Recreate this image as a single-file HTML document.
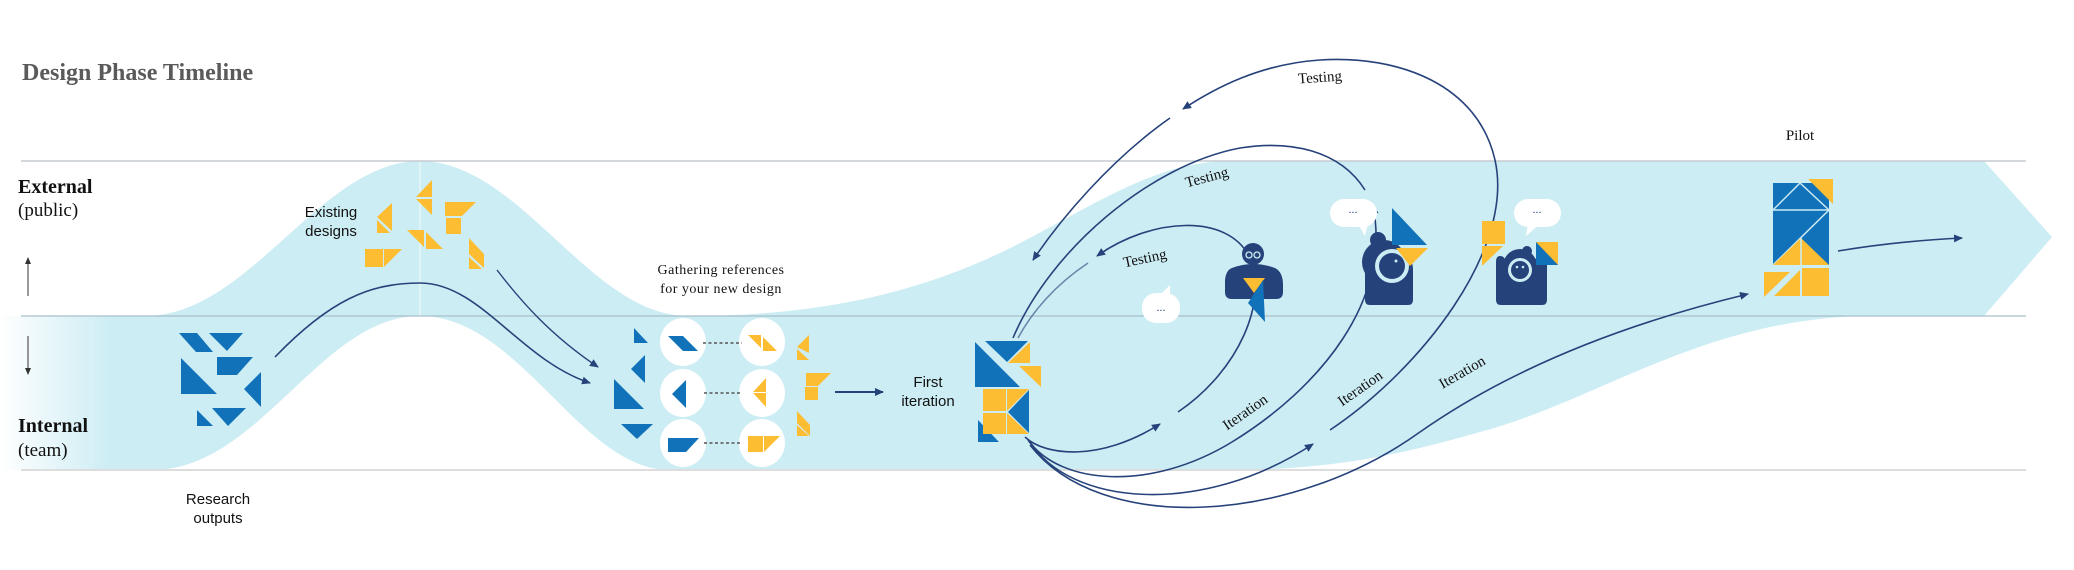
<!DOCTYPE html>
<html><head><meta charset="utf-8"><style>
html,body{margin:0;padding:0;background:#fff;}
svg{display:block;}
.sans{font-family:"Liberation Sans",sans-serif;}
.serif{font-family:"Liberation Serif",serif;}
</style></head><body>
<svg width="2074" height="570" viewBox="0 0 2074 570" xmlns="http://www.w3.org/2000/svg">
<defs>
<marker id="ah" markerWidth="10" markerHeight="10" refX="8" refY="5" orient="auto" markerUnits="userSpaceOnUse">
<path d="M0,1 L9,5 L0,9 Z" fill="#26427A"/></marker>
<linearGradient id="fade" x1="0" x2="1" y1="0" y2="0">
<stop offset="0" stop-color="#fff" stop-opacity="1"/><stop offset="1" stop-color="#fff" stop-opacity="0"/></linearGradient>
</defs>
<path fill="#CDEDF4" d="M0,316 L145,316 C250,316 320,161 420,161 C520,161 590,316 688,316 C800,316 900,300 1000,253 C1080,215 1150,161 1230,161 L1984,161 L2052,237 L1984,316 L1864,316 C1700,320 1600,400 1480,432 C1400,455 1330,470 1230,470 L670,470 C580,470 520,316 420,316 C320,316 260,470 152,470 L0,470 Z"/>
<rect x="0" y="316" width="110" height="154" fill="url(#fade)"/>
<line x1="420" y1="161" x2="420" y2="316" stroke="#e6f5f9" stroke-width="1.5"/>
<line x1="21" y1="161" x2="2026" y2="161" stroke="#c6ccd0" stroke-width="1.5"/>
<line x1="21" y1="316" x2="2026" y2="316" stroke="#a9c0cb" stroke-width="1.2"/>
<line x1="21" y1="470" x2="2026" y2="470" stroke="#dddddd" stroke-width="2"/>

<text x="22" y="80" class="serif" font-size="24" font-weight="bold" fill="#5a5a5a">Design Phase Timeline</text>
<text x="18" y="193" class="serif" font-size="20" font-weight="bold" fill="#111">External</text>
<text x="18" y="216" class="serif" font-size="19" fill="#111">(public)</text>
<text x="18" y="432" class="serif" font-size="20" font-weight="bold" fill="#111">Internal</text>
<text x="18" y="456" class="serif" font-size="19" fill="#111">(team)</text>
<line x1="28" y1="296" x2="28" y2="262" stroke="#333" stroke-width="1"/><path d="M25,264 L28,257 L31,264Z" fill="#333"/>
<line x1="28" y1="336" x2="28" y2="370" stroke="#333" stroke-width="1"/><path d="M25,368 L28,375 L31,368Z" fill="#333"/>

<g fill="#1172B9">
<polygon points="179,333 197,333 213,352 196,352"/>
<polygon points="209,333 243,333 227,351"/>
<polygon points="217,357 253,357 237,375 217,375"/>
<polygon points="181,358 181,394 217,394"/>
<polygon points="261,372 261,407 244,389"/>
<polygon points="197,410 197,426 213,426"/>
<polygon points="212,408 246,408 228,426"/>
</g>
<text x="218" y="504" class="sans" font-size="15" text-anchor="middle" fill="#111">Research</text>
<text x="218" y="523" class="sans" font-size="15" text-anchor="middle" fill="#111">outputs</text>

<g fill="#FDBD33">
<polygon points="392,203 392,231 377,217"/><polygon points="377,220 377,233 390,233"/>
<polygon points="432,180 432,197 416,197"/><polygon points="416,199 432,199 432,215"/>
<polygon points="445,202 476,202 462,216 445,216"/><rect x="446" y="218" width="15" height="16"/>
<polygon points="407,230 424,230 424,247"/><polygon points="426,232 443,249 426,249"/>
<rect x="365" y="249" width="18" height="18"/><polygon points="384,249 402,249 384,267"/>
<polygon points="469,238 484,254 484,268 469,254"/><polygon points="469,257 482,269 469,269"/>
</g>
<text x="331" y="217" class="sans" font-size="15" text-anchor="middle" fill="#111">Existing</text>
<text x="331" y="236" class="sans" font-size="15" text-anchor="middle" fill="#111">designs</text>

<path d="M275,357 C330,300 370,283 420,283 C480,283 520,360 590,383" fill="none" stroke="#26427A" stroke-width="1.6" marker-end="url(#ah)"/>
<path d="M497,270 C520,300 550,335 598,367" fill="none" stroke="#26427A" stroke-width="1.4" marker-end="url(#ah)"/>

<text x="721" y="274" class="serif" font-size="14" text-anchor="middle" fill="#111" letter-spacing="0.5">Gathering references</text>
<text x="721" y="293" class="serif" font-size="14" text-anchor="middle" fill="#111" letter-spacing="0.5">for your new design</text>

<g fill="#1172B9">
<polygon points="634,328 634,343 648,343"/>
<polygon points="645,355 645,383 631,369"/>
<polygon points="614,379 614,409 644,409"/>
<polygon points="621,424 653,424 637,439"/>
</g>
<g fill="#fff">
<ellipse cx="683" cy="342" rx="23" ry="24"/><ellipse cx="683" cy="393" rx="23" ry="24"/><ellipse cx="683" cy="443" rx="23" ry="24"/>
<ellipse cx="762" cy="342" rx="23" ry="24"/><ellipse cx="762" cy="393" rx="23" ry="24"/><ellipse cx="762" cy="443" rx="23" ry="24"/>
</g>
<g stroke="#555" stroke-width="1.5" stroke-dasharray="3,2.5">
<line x1="703" y1="343" x2="742" y2="343"/><line x1="704" y1="393" x2="742" y2="393"/><line x1="704" y1="443" x2="742" y2="443"/>
</g>
<g fill="#1172B9">
<polygon points="668,336 683,336 698,351 683,351"/>
<polygon points="686,380 686,408 672,394"/>
<polygon points="668,438 699,438 686,452 668,452"/>
</g>
<g fill="#FDBD33">
<polygon points="748,335 761,335 761,348"/><polygon points="763,337 777,351 763,351"/>
<polygon points="766,378 766,392 753,392"/><polygon points="753,393 766,393 766,407"/>
<rect x="748" y="436" width="15" height="16"/><polygon points="764,436 780,436 764,452"/>
<polygon points="809,335 809,353 797,347"/><polygon points="797,349 809,360 797,360"/>
<polygon points="806,373 831,373 818,386 806,386"/><rect x="805" y="387" width="13" height="13"/>
<polygon points="797,411 810,425 810,436 797,423"/><polygon points="797,425 809,436 797,436"/>
</g>
<line x1="835" y1="392" x2="883" y2="392" stroke="#26427A" stroke-width="2" marker-end="url(#ah)"/>
<text x="928" y="387" class="sans" font-size="15" text-anchor="middle" fill="#111">First</text>
<text x="928" y="406" class="sans" font-size="15" text-anchor="middle" fill="#111">iteration</text>

<g fill="#1172B9">
<polygon points="975,342 975,387 1020,387"/>
<polygon points="985,341 1028,341 1007,362"/>
<polygon points="1029,390 1029,433 1008,412"/>
<polygon points="978,420 978,442 999,442"/>
</g>
<g fill="#FDBD33">
<polygon points="1030,342 1030,363 1008,363"/>
<polygon points="1019,366 1041,366 1041,387"/>
<rect x="983" y="389" width="23" height="22"/>
<polygon points="1007,389 1029,389 1007,411"/>
<rect x="983" y="413" width="23" height="21"/>
<polygon points="1007,413 1029,434 1007,434"/>
</g>

<g fill="none" stroke="#26427A" stroke-width="1.6">
<path d="M1025,437 C1045,456 1100,462 1160,424" marker-end="url(#ah)"/>
<path d="M1178,412 C1240,370 1268,300 1250,258 C1228,212 1150,218 1097,256" marker-end="url(#ah)"/>
<path d="M1088,263 C1055,285 1032,312 1018,338" stroke-opacity="0.6"/>
<path d="M1028,440 C1060,485 1150,492 1232,442 C1320,388 1392,300 1373,206" marker-end="url(#ah)"/>
<path d="M1365,190 C1340,150 1290,140 1240,148 C1150,165 1050,250 1013,338"/>
<path d="M1030,442 C1070,505 1200,518 1313,444" marker-end="url(#ah)"/>
<path d="M1330,430 C1420,370 1515,250 1495,160 C1478,85 1400,55 1320,60 C1260,64 1215,88 1183,109" marker-end="url(#ah)"/>
<path d="M1170,118 C1110,160 1060,220 1033,260" marker-end="url(#ah)"/>
<path d="M1030,445 C1100,535 1290,525 1420,432 C1520,362 1640,320 1748,294" marker-end="url(#ah)"/>
<path d="M1838,251 C1880,244 1920,240 1962,238" marker-end="url(#ah)"/>
</g>
<text x="1320" y="82" class="serif" font-size="15" text-anchor="middle" fill="#111" transform="rotate(-4 1320 78)">Testing</text>
<text x="1207" y="182" class="serif" font-size="15" text-anchor="middle" fill="#111" transform="rotate(-15 1207 178)">Testing</text>
<text x="1145" y="263" class="serif" font-size="15" text-anchor="middle" fill="#111" transform="rotate(-12 1145 259)">Testing</text>
<text x="1245" y="417" class="serif" font-size="15" text-anchor="middle" fill="#111" transform="rotate(-35 1245 412)">Iteration</text>
<text x="1360" y="393" class="serif" font-size="15" text-anchor="middle" fill="#111" transform="rotate(-35 1360 388)">Iteration</text>
<text x="1462" y="377" class="serif" font-size="15" text-anchor="middle" fill="#111" transform="rotate(-30 1462 372)">Iteration</text>

<g fill="#fff">
<rect x="1142" y="293" width="38" height="30" rx="14"/><polygon points="1160,295 1170,285 1170,298"/>
<rect x="1330" y="199" width="47" height="28" rx="14"/><polygon points="1358,224 1365,236 1368,224"/>
<rect x="1514" y="199" width="47" height="28" rx="14"/><polygon points="1528,224 1526,236 1540,224"/>
</g>
<g class="serif" font-size="12" fill="#26427A" text-anchor="middle">
<text x="1161" y="311">...</text><text x="1353" y="213">...</text><text x="1537" y="213">...</text>
</g>
<g fill="#26427A">
<circle cx="1253" cy="254" r="11"/>
<path d="M1232,268 Q1253,260 1275,268 Q1283,272 1283,285 L1283,292 Q1283,299 1276,299 L1232,299 Q1225,299 1225,292 L1225,280 Q1226,270 1232,268 Z"/>
</g>
<g fill="none" stroke="#CDEDF4" stroke-width="1.3"><circle cx="1249" cy="255" r="3"/><circle cx="1257" cy="255" r="3"/></g>
<polygon points="1243,278 1265,278 1254,293" fill="#FDBD33"/>
<polygon points="1263,280 1265,322 1248,303" fill="#1172B9"/>
<!-- person 2 -->
<g fill="#26427A">
<path d="M1365,270 Q1365,250 1388,248 Q1413,250 1413,270 L1413,300 Q1413,305 1408,305 L1370,305 Q1365,305 1365,300 Z"/>
<circle cx="1384" cy="262" r="22"/>
<circle cx="1378" cy="240" r="8"/>
</g>
<circle cx="1392" cy="266" r="17" fill="#CDEDF4"/>
<circle cx="1392" cy="266" r="13" fill="#26427A"/>
<circle cx="1396" cy="261" r="1.5" fill="#CDEDF4"/>
<polygon points="1392,208 1392,245 1427,245" fill="#1172B9"/>
<polygon points="1396,248 1428,248 1410,266" fill="#FDBD33"/>
<!-- person 3 -->
<g fill="#26427A">
<path d="M1500,256 Q1506,256 1506,265 L1534,265 Q1534,256 1542,256 Q1547,256 1547,265 L1547,300 Q1547,305 1542,305 L1501,305 Q1496,305 1496,300 L1496,262 Q1496,256 1500,256 Z"/>
<circle cx="1520" cy="266" r="17"/><circle cx="1527" cy="251" r="5"/>
</g>
<circle cx="1520" cy="270" r="12" fill="#CDEDF4"/>
<circle cx="1520" cy="270" r="9" fill="#26427A"/>
<g fill="#CDEDF4"><circle cx="1517" cy="267" r="1.3"/><circle cx="1523" cy="267" r="1.3"/></g>
<rect x="1482" y="221" width="23" height="23" fill="#FDBD33"/>
<polygon points="1482,246 1503,246 1482,266" fill="#FDBD33"/>
<rect x="1536" y="242" width="22" height="23" fill="#FDBD33"/>
<polygon points="1536,242 1536,265 1558,265" fill="#1172B9"/>

<text x="1800" y="140" class="serif" font-size="15" text-anchor="middle" fill="#111">Pilot</text>
<rect x="1773" y="183" width="56" height="82" fill="#1172B9"/>
<g stroke="#CDEDF4" stroke-width="1.5" fill="none">
<line x1="1773" y1="210" x2="1829" y2="210"/><line x1="1773" y1="210" x2="1800" y2="183"/><line x1="1800" y1="183" x2="1829" y2="210"/>
<line x1="1829" y1="210" x2="1773" y2="265"/>
</g>
<polygon points="1808,179 1833,179 1833,204" fill="#FDBD33"/>
<polygon points="1801,238 1829,265 1773,265" fill="#FDBD33"/>
<line x1="1801" y1="238" x2="1801" y2="265" stroke="#CDEDF4" stroke-width="1.5"/>
<polygon points="1764,272 1790,272 1764,297" fill="#FDBD33"/>
<polygon points="1800,270 1800,296 1774,296" fill="#FDBD33"/>
<rect x="1802" y="268" width="27" height="28" fill="#FDBD33"/>
</svg>
</body></html>
